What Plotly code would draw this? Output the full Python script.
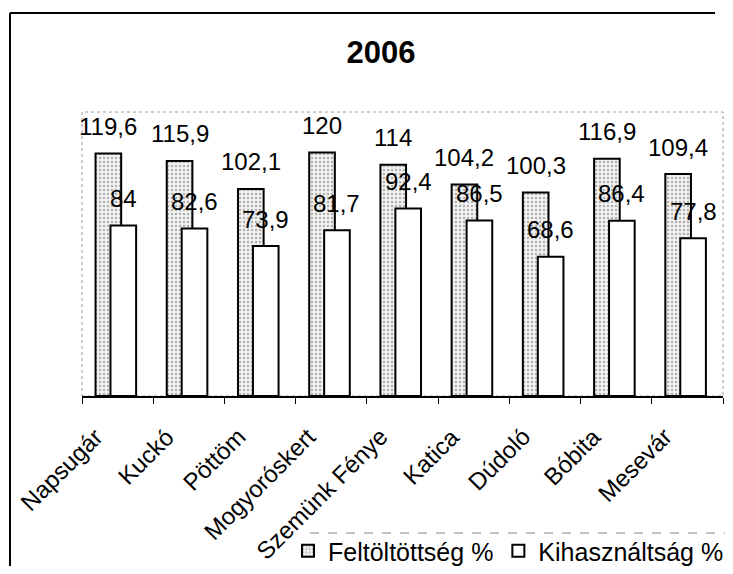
import plotly.graph_objects as go

categories = ["Napsugár", "Kuckó", "Pöttöm", "Mogyoróskert", "Szemünk Fénye",
              "Katica", "Dúdoló", "Bóbita", "Mesevár"]
feltoltottseg = [119.6, 115.9, 102.1, 120, 114, 104.2, 100.3, 116.9, 109.4]
kihasznaltsag = [84, 82.6, 73.9, 81.7, 92.4, 86.5, 68.6, 86.4, 77.8]
label_f = ["119,6", "115,9", "102,1", "120", "114", "104,2", "100,3", "116,9", "109,4"]
label_k = ["84", "82,6", "73,9", "81,7", "92,4", "86,5", "68,6", "86,4", "77,8"]

FONT = "Liberation Sans, Arial, sans-serif"
xs = list(range(len(categories)))
W = 0.36
OFF_F = -0.31
OFF_K = -0.10

# the page body adds an 8px margin; work in reference pixels and shift
PAGE = 8
FW, FH = 733 - PAGE, 574 - 2 * PAGE
L, R, T, B = 82 - PAGE, 723 - PAGE, 112 - PAGE, 396 - PAGE
PW, PH = R - L, B - T

def px(x):
    return (x - PAGE - L) / PW

def py(y):
    return (B - (y - PAGE)) / PH

fig = go.Figure()
fig.add_trace(go.Bar(
    x=xs, y=feltoltottseg, name="Feltöltöttség %",
    width=W, offset=OFF_F,
    marker=dict(color="#f2f2f2",
                pattern=dict(shape=".", fgcolor="#6e6e6e", bgcolor="#f2f2f2",
                             size=4, solidity=0.3),
                line=dict(color="black", width=2)),
))
fig.add_trace(go.Bar(
    x=xs, y=kihasznaltsag, name="Kihasználtság %",
    width=W, offset=OFF_K,
    marker=dict(color="white", line=dict(color="black", width=2)),
))

annotations = []
for i, (v, t) in enumerate(zip(feltoltottseg, label_f)):
    annotations.append(dict(x=i + OFF_F + W / 2, y=v, text=t, showarrow=False,
                            yshift=27, yanchor="middle", xanchor="center",
                            font=dict(family=FONT, size=24, color="black")))
for i, (v, t) in enumerate(zip(kihasznaltsag, label_k)):
    annotations.append(dict(x=i + OFF_K + W / 2, y=v, text=t, showarrow=False,
                            yshift=27, yanchor="middle", xanchor="center",
                            font=dict(family=FONT, size=24, color="black")))
for i, c in enumerate(categories):
    annotations.append(dict(x=i, y=0, text=c, showarrow=False, textangle=-45,
                            xanchor="right", yanchor="top", xshift=-7, yshift=-24,
                            font=dict(family=FONT, size=24, color="black")))

shapes = [
    dict(type="rect", xref="paper", yref="paper", x0=0, y0=0, x1=1, y1=1,
         line=dict(color="#9a9a9a", width=1, dash="dot"), layer="below"),
    dict(type="line", xref="paper", yref="paper", x0=px(10), y0=py(13), x1=px(715), y1=py(13),
         line=dict(color="black", width=2)),
    dict(type="line", xref="paper", yref="paper", x0=px(10), y0=py(13), x1=px(10), y1=py(566),
         line=dict(color="black", width=2)),
    dict(type="line", xref="paper", yref="paper", x0=px(310), y0=py(533), x1=px(731), y1=py(533),
         line=dict(color="#888888", width=1, dash="dash")),
]

fig.update_layout(
    width=FW, height=FH,
    margin=dict(l=L, r=FW - R, t=T, b=FH - B, autoexpand=False),
    paper_bgcolor="white", plot_bgcolor="white",
    barmode="overlay",
    font=dict(family=FONT, color="black"),
    title=dict(text="<b>2006</b>", x=px(381), xref="paper", xanchor="center",
               y=1 - (52 - PAGE) / FH, yanchor="middle",
               font=dict(family=FONT, size=31, color="black")),
    xaxis=dict(range=[-0.5, 8.5], tickmode="array", tickvals=xs, ticktext=categories,
               showticklabels=False, automargin=False,
               ticks="", showgrid=False, zeroline=False,
               showline=True, linecolor="black", linewidth=1.5,
               minor=dict(ticks="outside", tick0=-0.5, dtick=1, ticklen=6,
                          tickcolor="black", showgrid=False)),
    yaxis=dict(range=[0, 140], visible=False, showgrid=False, zeroline=False,
               automargin=False),
    showlegend=True,
    legend=dict(orientation="h", x=px(729), xanchor="right", y=py(551), yanchor="middle",
                font=dict(family=FONT, size=25, color="black"),
                bgcolor="rgba(0,0,0,0)", itemwidth=30, traceorder="normal"),
    annotations=annotations,
    shapes=shapes,
)

fig.write_html("out.html")
